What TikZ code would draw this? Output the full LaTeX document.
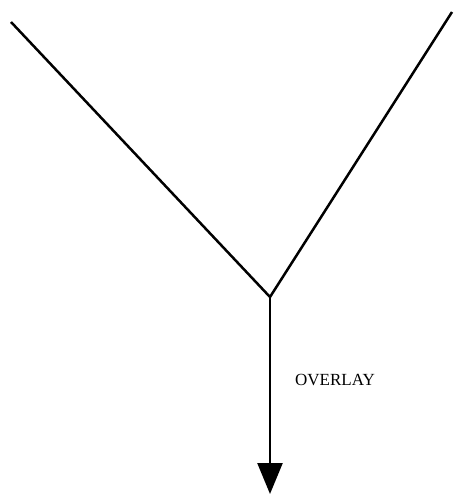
\documentclass[tikz,border=0pt]{standalone}
\usepackage{fontspec}
\setmainfont{Liberation Serif}
\usetikzlibrary{arrows.meta}
\begin{document}
\begin{tikzpicture}[
    x=1pt, y=-1pt,
    line width=2.5pt,
    flow/.style={-{Triangle[width=25pt,length=31pt]}},
    tag/.style={font=\fontsize{17}{20}\selectfont, inner sep=0pt},
  ]
  \useasboundingbox (0,0) rectangle (455,495);
  \coordinate (left) at (11,22);
  \coordinate (right) at (452,12);
  \coordinate (merge) at (270,297);
  \coordinate (out) at (270,494);
  \draw (left) -- (merge) -- (right);
  \draw[flow] (merge) -- (out);
  \node[tag] (overlay) at (335,380) {OVERLAY};
\end{tikzpicture}
\end{document}
